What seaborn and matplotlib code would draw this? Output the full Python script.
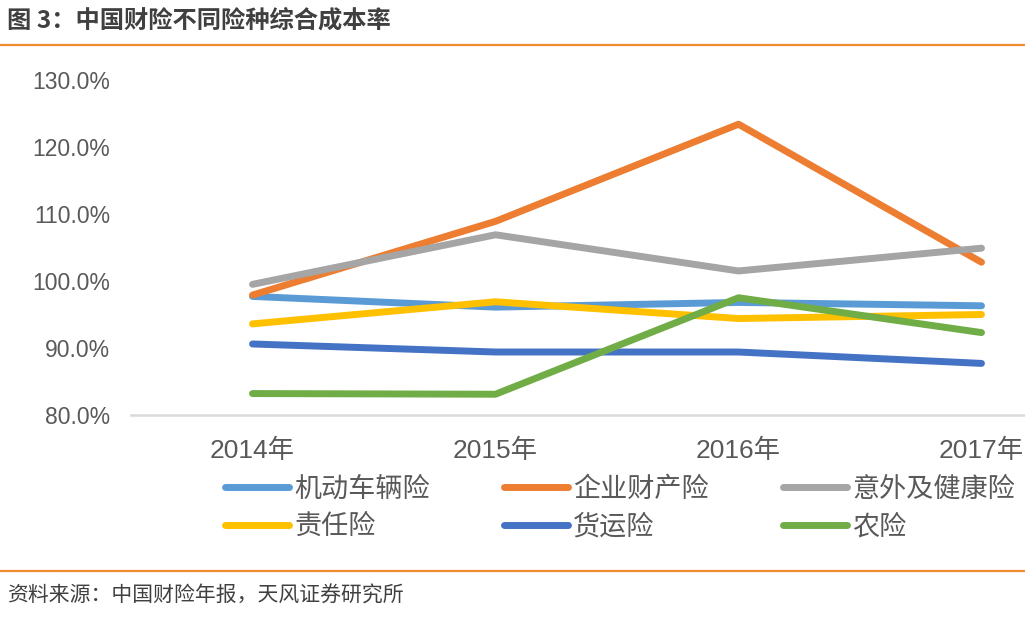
import matplotlib
matplotlib.use("Agg")
import matplotlib.pyplot as plt
import matplotlib.lines as mlines
import seaborn as sns
import pandas as pd

# ---- data ----
years = ["2014年", "2015年", "2016年", "2017年"]
series_names = ["机动车辆险", "企业财产险", "意外及健康险", "责任险", "货运险", "农险"]
motor = [97.7, 96.1, 96.8, 96.3]
property_ = [97.9, 108.9, 123.4, 102.8]
accident_health = [99.5, 106.9, 101.5, 104.9]
liability = [93.6, 96.9, 94.4, 95.0]
cargo = [90.6, 89.4, 89.4, 87.7]
agri = [83.2, 83.1, 97.5, 92.3]
yticks = [80, 90, 100, 110, 120, 130]
colors = ["#5B9BD5", "#ED7D31", "#A5A5A5", "#FFC000", "#4472C4", "#70AD47"]

all_values = [motor, property_, accident_health, liability, cargo, agri]
rows = []
for name, vals in zip(series_names, all_values):
    for i, (yr, v) in enumerate(zip(years, vals)):
        rows.append({"series": name, "xpos": i, "year": yr, "value": v})
df = pd.DataFrame(rows)

sns.set_theme(style="white")
cjk = ["Liberation Sans", "Noto Sans CJK SC", "DejaVu Sans"]
plt.rcParams["font.family"] = cjk

W, H = 1025, 617
fig = plt.figure(figsize=(W / 100, H / 100), dpi=100)
fig.patch.set_facecolor("white")

ax = fig.add_axes([131 / W, (H - 415) / H, 972 / W, 335 / H])
sns.lineplot(data=df, x="xpos", y="value", hue="series", hue_order=series_names,
             palette=colors, linewidth=5, sort=False, legend=False, ax=ax,
             solid_capstyle="round")
for ln in ax.lines:
    ln.set_solid_capstyle("round")
    ln.set_solid_joinstyle("round")

ax.set_xlim(-0.5, 3.5)
ax.set_ylim(80, 130)
ax.set_xticks(range(len(years)))
ax.set_xticklabels(years)
ax.set_yticks(yticks)
ax.set_yticklabels([f"{t:.1f}%" for t in yticks])
ax.set_xlabel("")
ax.set_ylabel("")
ax.tick_params(axis="x", length=0, pad=17, labelsize=19, colors="#595959")
ax.tick_params(axis="y", length=0, pad=15, labelsize=16.5, colors="#595959")
for s in ["top", "right", "left"]:
    ax.spines[s].set_visible(False)
ax.spines["bottom"].set_color("#D9D9D9")
ax.spines["bottom"].set_linewidth(1.8)
ax.grid(False)
ax.set_facecolor("white")

# legend (row-major order like reference)
handles = [mlines.Line2D([], [], color=c, linewidth=5, solid_capstyle="round")
           for c in colors]
order = [0, 3, 1, 4, 2, 5]
fig.legend([handles[i] for i in order], [series_names[i] for i in order],
           ncol=3, loc="center left", bbox_to_anchor=(225 / W, 1 - 508.5 / H),
           frameon=False, fontsize=19.5, handlelength=2.35, handletextpad=0.2,
           columnspacing=2.75, labelspacing=0.41, borderpad=0, borderaxespad=0,
           labelcolor="#595959")

# title and rules
fig.text(7 / W, 1 - 22 / H, "图 3：中国财险不同险种综合成本率", fontsize=17.5,
         fontweight="bold", color="#404040", va="center", ha="left",
         family=["Noto Sans CJK SC", "DejaVu Sans"])
fig.add_artist(mlines.Line2D([0, 1], [1 - 44.5 / H, 1 - 44.5 / H],
                             transform=fig.transFigure, color="#F08A2C", linewidth=1.6))
fig.add_artist(mlines.Line2D([0, 1], [1 - 570.5 / H, 1 - 570.5 / H],
                             transform=fig.transFigure, color="#F08A2C", linewidth=1.6))
fig.text(7 / W, 1 - 596 / H, "资料来源：中国财险年报，天风证券研究所", fontsize=15,
         color="#404040", va="center", ha="left",
         family=["Noto Sans CJK SC", "DejaVu Sans"])

fig.savefig("out.png", dpi=100, facecolor="white")
